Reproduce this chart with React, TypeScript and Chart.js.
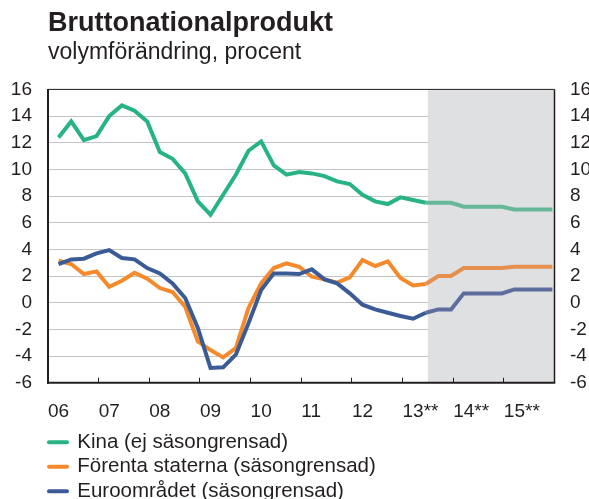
import React, { useEffect, useRef } from "react";
import { Chart, registerables } from "chart.js";

Chart.register(...registerables);

const FONT = "'Liberation Sans', Arial, Helvetica, sans-serif";
const INK = "#231f20";

const TITLE = "Bruttonationalprodukt";
const SUBTITLE = "volymförändring, procent";

const quarters = [
  "2006K1", "2006K2", "2006K3", "2006K4",
  "2007K1", "2007K2", "2007K3", "2007K4",
  "2008K1", "2008K2", "2008K3", "2008K4",
  "2009K1", "2009K2", "2009K3", "2009K4",
  "2010K1", "2010K2", "2010K3", "2010K4",
  "2011K1", "2011K2", "2011K3", "2011K4",
  "2012K1", "2012K2", "2012K3", "2012K4",
  "2013K1", "2013K2", "2013K3", "2013K4",
  "2014K1", "2014K2", "2014K3", "2014K4",
  "2015K1", "2015K2", "2015K3", "2015K4",
];

const kina = [
  12.4, 13.6, 12.2, 12.5,
  14.0, 14.8, 14.4, 13.6,
  11.3, 10.8, 9.7, 7.6,
  6.6, 8.1, 9.6, 11.4,
  12.1, 10.3, 9.6, 9.8,
  9.7, 9.5, 9.1, 8.9,
  8.1, 7.6, 7.4, 7.9,
  7.7, 7.5, 7.5, 7.5,
  7.2, 7.2, 7.2, 7.2,
  7.0, 7.0, 7.0, 7.0,
];

const forentaStaterna = [
  3.15, 2.9, 2.15, 2.35,
  1.2, 1.65, 2.25, 1.8,
  1.1, 0.8, -0.3, -2.9,
  -3.55, -4.1, -3.4, -0.4,
  1.45, 2.6, 2.95, 2.7,
  1.95, 1.75, 1.5, 1.9,
  3.2, 2.75, 3.1, 1.85,
  1.3, 1.4, 2.0, 2.0,
  2.6, 2.6, 2.6, 2.6,
  2.7, 2.7, 2.7, 2.7,
];

const euroomradet = [
  2.9, 3.25, 3.3, 3.7,
  3.95, 3.35, 3.25, 2.6,
  2.2, 1.45, 0.35, -1.9,
  -4.9, -4.85, -3.9, -1.55,
  0.95, 2.2, 2.2, 2.15,
  2.5, 1.75, 1.45, 0.7,
  -0.15, -0.5, -0.75, -1.0,
  -1.2, -0.75, -0.5, -0.5,
  0.7, 0.7, 0.7, 0.7,
  1.0, 1.0, 1.0, 1.0,
];

const seriesNames = [
  "Kina (ej säsongrensad)",
  "Förenta staterna (säsongrensad)",
  "Euroområdet (säsongrensad)",
];
const seriesColors = ["#27b386", "#f58a2c", "#3b5b97"];
const forecastColors = ["#66b898", "#e5904f", "#5d6e9e"];
const seriesOrder = [3, 2, 1];

const yearTicks = [2006, 2007, 2008, 2009, 2010, 2011, 2012, 2013, 2014, 2015, 2016];
const yearLabels = ["06", "07", "08", "09", "10", "11", "12", "13**", "14**", "15**", ""];
const yTickValues = [-6, -4, -2, 0, 2, 4, 6, 8, 10, 12, 14, 16];

const FORECAST_START = 2013.5;
const LEGEND_TOP = 428;
const LEGEND_SHIFT_X = -3;

const quarterToX = (q: string) =>
  Number(q.slice(0, 4)) + (3 * (Number(q.slice(5)) - 1) + 2.5) / 12;

const seriesValues = [kina, forentaStaterna, euroomradet];

const decorPlugin = {
  id: "decor",
  afterUpdate(chart: any) {
    const lg = chart.legend;
    if (lg) {
      const dy = LEGEND_TOP - lg.top;
      lg.top += dy;
      lg.bottom += dy;
      lg.left += LEGEND_SHIFT_X;
      lg.right += LEGEND_SHIFT_X;
    }
  },
  beforeDatasetsDraw(chart: any) {
    const { ctx, chartArea: a, scales } = chart;
    const xs = scales.x.getPixelForValue(FORECAST_START);
    ctx.save();
    ctx.fillStyle = "#dfe0e2";
    ctx.fillRect(xs, a.top, a.right - xs, a.bottom - a.top);
    ctx.restore();
  },
  afterDatasetsDraw(chart: any) {
    const { ctx, chartArea: a } = chart;
    ctx.save();
    ctx.strokeStyle = INK;
    ctx.lineCap = "butt";
    ctx.lineWidth = 1;
    ctx.beginPath();
    ctx.moveTo(a.left, a.top);
    ctx.lineTo(a.right, a.top);
    ctx.stroke();
    ctx.lineWidth = 1.5;
    ctx.beginPath();
    ctx.moveTo(a.right, a.top);
    ctx.lineTo(a.right, a.bottom);
    ctx.stroke();
    ctx.lineWidth = 2;
    ctx.beginPath();
    ctx.moveTo(a.left, a.top - 0.5);
    ctx.lineTo(a.left, a.bottom + 1);
    ctx.stroke();
    ctx.beginPath();
    ctx.moveTo(a.left - 1, a.bottom);
    ctx.lineTo(a.right + 0.75, a.bottom);
    ctx.stroke();
    ctx.restore();
  },
};

export default function App() {
  const ref = useRef<HTMLCanvasElement>(null);

  useEffect(() => {
    if (!ref.current) return;
    const datasets = seriesNames.map((name, i) => ({
      label: name,
      data: quarters.map((q, j) => ({ x: quarterToX(q), y: seriesValues[i][j] })),
      borderColor: seriesColors[i],
      backgroundColor: seriesColors[i],
      borderWidth: 4,
      pointRadius: 0,
      pointHoverRadius: 0,
      tension: 0,
      fill: false,
      order: seriesOrder[i],
      segment: {
        borderColor: (c: any) =>
          c.p0.parsed.x >= FORECAST_START - 0.1 ? forecastColors[i] : undefined,
      },
    }));

    const tickFont = { family: FONT, size: 19 };

    const chart = new Chart(ref.current, {
      type: "line",
      data: { datasets },
      options: {
        responsive: false,
        maintainAspectRatio: false,
        animation: false,
        events: [],
        layout: { padding: { top: 0, left: 0, right: 0, bottom: 1.2 } },
        scales: {
          x: {
            type: "linear",
            min: 2006,
            max: 2016,
            afterBuildTicks: (s: any) => {
              s.ticks = yearTicks.map((v) => ({ value: v }));
            },
            ticks: {
              autoSkip: false,
              maxRotation: 0,
              minRotation: 0,
              align: "start",
              padding: 22.4,
              color: INK,
              font: tickFont,
              callback: (v: any) => {
                const k = yearTicks.indexOf(Number(v));
                return k >= 0 ? yearLabels[k] : "";
              },
            },
            grid: {
              display: true,
              drawOnChartArea: false,
              drawTicks: true,
              tickLength: -5,
              color: INK,
              lineWidth: 1,
              z: 1,
            },
            border: { display: false },
          },
          y: {
            type: "linear",
            position: "left",
            min: -6,
            max: 16,
            afterBuildTicks: (s: any) => {
              s.ticks = yTickValues.map((v) => ({ value: v }));
            },
            afterFit: (s: any) => {
              s.width = 48;
            },
            ticks: { padding: 16, color: INK, font: tickFont },
            grid: { color: "#c4c4c4", lineWidth: 1, drawTicks: false },
            border: { display: false },
          },
          y2: {
            type: "linear",
            position: "right",
            min: -6,
            max: 16,
            afterBuildTicks: (s: any) => {
              s.ticks = yTickValues.map((v) => ({ value: v }));
            },
            afterFit: (s: any) => {
              s.width = 34.5;
            },
            ticks: { padding: 15.5, color: INK, font: tickFont },
            grid: { display: false, drawTicks: false },
            border: { display: false },
          },
        },
        plugins: {
          title: {
            display: true,
            text: TITLE,
            align: "start",
            fullSize: false,
            color: INK,
            font: { family: FONT, size: 27, weight: "bold", lineHeight: 1.1 },
            padding: { top: 9.1, bottom: 0 },
          },
          subtitle: {
            display: true,
            text: SUBTITLE,
            align: "start",
            fullSize: false,
            color: INK,
            font: { family: FONT, size: 23, weight: "normal", lineHeight: 1.2 },
            padding: { top: 0, bottom: 23 },
          },
          legend: {
            display: true,
            position: "bottom",
            align: "start",
            fullSize: false,
            labels: {
              usePointStyle: true,
              pointStyle: "line",
              pointStyleWidth: 18,
              padding: 4,
              color: INK,
              font: { family: FONT, size: 20.5 },
              generateLabels: (c: any) =>
                (Chart.defaults.plugins.legend.labels as any)
                  .generateLabels(c)
                  .map((it: any) => ({
                    ...it,
                    lineWidth: 4,
                    lineCap: "round",
                    pointStyle: "line",
                    strokeStyle: seriesColors[it.datasetIndex],
                    fillStyle: seriesColors[it.datasetIndex],
                  }))
                  .sort((a: any, b: any) => a.datasetIndex - b.datasetIndex),
            },
          },
          tooltip: { enabled: false },
        },
      },
      plugins: [decorPlugin],
    } as any);

    return () => chart.destroy();
  }, []);

  return (
    <div
      style={{
        position: "absolute",
        left: 0,
        top: 0,
        width: 589,
        height: 499,
        overflow: "hidden",
        background: "#ffffff",
      }}
    >
      <canvas
        ref={ref}
        width={589}
        height={530}
        style={{ display: "block", width: 589, height: 530 }}
      />
    </div>
  );
}
